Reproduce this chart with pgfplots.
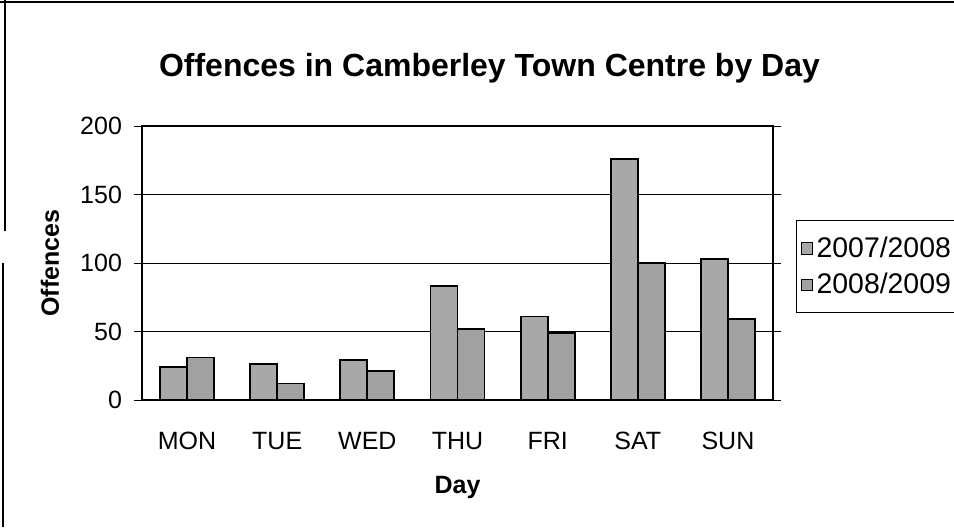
\documentclass[border=0pt]{standalone}
\usepackage{pgfplots}
\pgfplotsset{compat=1.18}
\usepackage{fontspec}
\setmainfont{Liberation Sans}
\pgfplotstableread{
x y
0 24
1 26
2 29
3 83
4 61
5 176
6 103
}\seriesA
\pgfplotstableread{
x y
0 31
1 12
2 21
3 52
4 49
5 100
6 59
}\seriesB
\begin{document}
\begin{tikzpicture}
\useasboundingbox (0,0) rectangle (477pt,263.5pt);
\draw[line width=0.8pt] (0,262.5pt) -- (477pt,262.5pt);
\draw[line width=0.8pt] (2.5pt,263.5pt) -- (2.5pt,148pt);
\draw[line width=0.8pt] (1.5pt,132pt) -- (1.5pt,0pt);
\begin{axis}[
  at={(71pt,63.5pt)}, anchor=south west,
  scale only axis, width=315.5pt, height=137pt,
  ybar=0pt, bar width=13.5pt,
  xmin=-0.5, xmax=6.5, ymin=0, ymax=200,
  xtick={0,...,6},
  xticklabels={MON,TUE,WED,THU,FRI,SAT,SUN},
  major x tick style={draw=none},
  extra x ticks={-0.5,0.5,1.5,2.5,3.5,4.5,5.5,6.5},
  extra x tick labels={},
  extra x tick style={tick style={draw=black, line width=0.6pt}, major tick length=5pt, tick align=outside, xmajorgrids=false},
  ytick={0,50,100,150,200},
  tick align=outside, major tick length=4pt,
  ymajorgrids, grid style={black, line width=0.5pt},
  axis line style={black, line width=0.7pt},
  tick style={black},
  ticklabel style={font=\fontsize{12.5}{14}\selectfont},
  /pgf/number format/assume math mode=true,
  xticklabel style={yshift=-8pt, text height=9pt, text depth=0pt},
  yticklabel style={xshift=-2.5pt},
  xlabel={\textbf{Day}},
  ylabel={\textbf{Offences}},
  label style={font=\fontsize{12.5}{14}\selectfont},
  xlabel style={at={(axis description cs:0.5,0)}, anchor=center, yshift=-43.5pt},
  ylabel style={at={(axis description cs:0,0.5)}, anchor=center, yshift=46pt},
  title={\textbf{Offences in Camberley Town Centre by Day}},
  title style={font=\fontsize{16}{18}\selectfont, at={(axis description cs:0.5,1)}, anchor=center, yshift=23pt, xshift=16pt},
  legend style={at={(1.0365,0.657)}, anchor=north west, draw=black, line width=0.6pt,
    font=\fontsize{14.2}{16}\selectfont, row sep=2.5pt, inner xsep=2pt, inner ysep=6pt,
    legend cell align=left},
  legend image code/.code={\draw[#1, line width=0.4pt] (0pt,-2.8pt) rectangle (5.6pt,2.8pt);},
]
\addplot[fill=black!34, draw=black, line width=0.9pt] table[x=x,y=y] {\seriesA};
\addplot[fill=black!37, draw=black, line width=0.9pt] table[x=x,y=y] {\seriesB};
\legend{2007/2008,2008/2009}
\end{axis}
\end{tikzpicture}
\end{document}
